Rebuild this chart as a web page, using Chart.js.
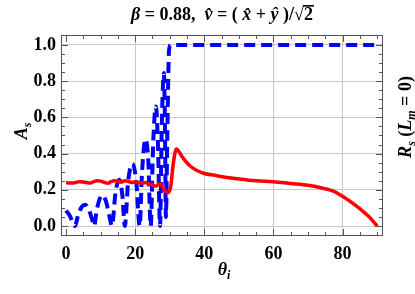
<!DOCTYPE html>
<html>
<head>
<meta charset="utf-8">
<script src="https://cdn.jsdelivr.net/npm/chart.js@4.4.0/dist/chart.umd.min.js"></script>
<style>
  body { margin: 0; background: #fff; }
  canvas { display: block; }
</style>
</head>
<body>
<canvas id="grafico" width="415" height="294"></canvas>
<script>
// valores
const thetaRed = [0, 1, 2, 3, 4, 5, 6, 7, 8, 9, 10, 11, 12, 13, 14, 15, 16, 17, 18, 19, 20, 21, 22, 23, 24, 25, 26, 27, 28, 28.8, 29.6, 30.3, 31, 31.6, 32, 32.7, 33.5, 34.5, 36, 38, 40, 43, 46, 50, 55, 60, 65, 70, 74, 77, 80, 83, 86, 88, 90];
const rsRed = [0.24, 0.238, 0.237, 0.242, 0.245, 0.243, 0.24, 0.238, 0.245, 0.25, 0.248, 0.242, 0.236, 0.245, 0.25, 0.248, 0.243, 0.25, 0.247, 0.24, 0.245, 0.24, 0.238, 0.24, 0.232, 0.228, 0.22, 0.235, 0.215, 0.19, 0.185, 0.22, 0.34, 0.41, 0.425, 0.41, 0.385, 0.36, 0.33, 0.305, 0.29, 0.28, 0.27, 0.26, 0.25, 0.245, 0.235, 0.225, 0.21, 0.195, 0.165, 0.125, 0.08, 0.045, 0];

const thetaBlue = [0, 1, 2, 2.6, 3.5, 4.5, 5.5, 6.5, 7.5, 8.1, 9, 10.5, 11.5, 12.5, 13.3, 14.3, 15.4, 16.3, 17, 18, 19.2, 20.3, 21.3, 22, 23, 23.8, 24.5, 25.2, 26, 26.6, 27.2, 27.7, 28.3, 28.6, 28.9, 29.3, 29.8, 30.3, 90];
const asBlue = [0.085, 0.06, 0.02, 0, 0.06, 0.105, 0.118, 0.095, 0.04, 0, 0.1, 0.17, 0.14, 0.06, 0, 0.18, 0.255, 0.17, 0, 0.25, 0.345, 0.25, 0, 0.3, 0.48, 0.36, 0, 0.45, 0.66, 0.45, 0, 0.55, 0.845, 0.6, 0.05, 0.5, 0.97, 1.0, 1.0];

const xTicks = [0, 20, 40, 60, 80];
const yTicks = [0, 0.2, 0.4, 0.6, 0.8, 1.0];

const fonte = '"Liberation Serif", "DejaVu Serif", serif';

// desenha texto em partes (itálico, subscrito)
function desenhaPartes(ctx, partes, x, y, alinhar) {
  let total = 0;
  partes.forEach(p => {
    ctx.font = p.f;
    p.w = ctx.measureText(p.t).width;
    total += p.w;
  });
  let cx = alinhar === "center" ? x - total / 2 : x;
  partes.forEach(p => {
    ctx.font = p.f;
    ctx.fillText(p.t, cx, y + (p.dy || 0));
    p.x = cx;
    cx += p.w;
  });
  return partes;
}

const molduraPlugin = {
  id: "moldura",
  afterDraw(chart) {
    const ctx = chart.ctx;
    const area = chart.chartArea;
    const sx = chart.scales.x;
    const sy = chart.scales.y;
    ctx.save();

    // moldura
    ctx.strokeStyle = "#555";
    ctx.lineWidth = 1;
    ctx.strokeRect(area.left + 0.5, area.top + 0.5, area.right - area.left - 1, area.bottom - area.top - 1);

    // marcas (maiores e menores) nos quatro lados
    ctx.beginPath();
    for (let v = 0; v <= 90; v += 5) {
      const px = Math.round(sx.getPixelForValue(v)) + 0.5;
      const len = v % 20 === 0 ? 7 : 4;
      ctx.moveTo(px, area.bottom);
      ctx.lineTo(px, area.bottom - len);
      ctx.moveTo(px, area.top);
      ctx.lineTo(px, area.top + len);
    }
    for (let i = 0; i <= 21; i++) {
      const v = i * 0.05;
      const py = Math.round(sy.getPixelForValue(v)) + 0.5;
      if (py < area.top + 2) continue;
      const len = i % 4 === 0 ? 7 : 4;
      ctx.moveTo(area.left, py);
      ctx.lineTo(area.left + len, py);
      ctx.moveTo(area.right, py);
      ctx.lineTo(area.right - len, py);
    }
    ctx.stroke();

    ctx.fillStyle = "#000";
    ctx.textBaseline = "alphabetic";
    const b = "bold 18px " + fonte;
    const bi = "italic bold 18px " + fonte;
    const sub = "italic bold 12px " + fonte;

    // título
    const partes = desenhaPartes(ctx, [
      { t: "β", f: bi },
      { t: " = 0.88,  ", f: b },
      { t: "v\u0302", f: bi },
      { t: " = ( ", f: b },
      { t: "x\u0302", f: bi },
      { t: " + ", f: b },
      { t: "y\u0302", f: bi },
      { t: " )/√", f: b },
      { t: "2", f: b }
    ], (area.left + area.right) / 2, 20, "center");
    const dois = partes[partes.length - 1];
    ctx.fillRect(dois.x - 1, 5, dois.w + 2, 1.6);

    // rótulo do eixo x
    desenhaPartes(ctx, [
      { t: "θ", f: bi },
      { t: "i", f: sub, dy: 4 }
    ], (area.left + area.right) / 2 + 2, 275, "center");

    // rótulo do eixo y (esquerda)
    ctx.save();
    ctx.translate(27, 131);
    ctx.rotate(-Math.PI / 2);
    desenhaPartes(ctx, [
      { t: "A", f: bi },
      { t: "s", f: sub, dy: 4 }
    ], 0, 0, "center");
    ctx.restore();

    // rótulo da direita
    ctx.save();
    ctx.translate(411, 117);
    ctx.rotate(-Math.PI / 2);
    desenhaPartes(ctx, [
      { t: "R", f: bi },
      { t: "s", f: sub, dy: 4 },
      { t: " (", f: b },
      { t: "L", f: bi },
      { t: "m", f: sub, dy: 4 },
      { t: " = 0)", f: b }
    ], 0, 0, "center");
    ctx.restore();

    ctx.restore();
  }
};

const grafico = document.getElementById("grafico");

new Chart(grafico, {
  type: "line",
  data: {
    datasets: [
      {
        label: "R_s",
        data: thetaRed.map((t, i) => ({ x: t, y: rsRed[i] })),
        borderColor: "#ff0000",
        borderWidth: 3.5,
        pointRadius: 0,
        cubicInterpolationMode: "monotone",
        fill: false,
      },
      {
        label: "A_s",
        data: thetaBlue.map((t, i) => ({ x: t, y: asBlue[i] })),
        borderColor: "#0000ff",
        borderWidth: 4,
        borderDash: [11, 6],
        pointRadius: 0,
        cubicInterpolationMode: "monotone",
        fill: false,
      },
    ],
  },
  options: {
    responsive: false,
    animation: false,
    devicePixelRatio: 1,
    layout: { padding: { top: 35, right: 32, left: 0, bottom: 0 } },
    plugins: {
      legend: { display: false },
      title: { display: false },
      tooltip: { enabled: false },
    },
    scales: {
      x: {
        type: "linear",
        min: -1.45,
        max: 91.7,
        afterBuildTicks: (s) => { s.ticks = xTicks.map((v) => ({ value: v })); },
        afterFit: (s) => { s.height = 58; },
        border: { display: false },
        grid: {
          drawTicks: false,
          color: (c) => (c.tick && c.tick.value === 0 ? "rgba(0,0,0,0)" : "#c8c8c8"),
          lineWidth: 1,
        },
        ticks: {
          padding: 8,
          maxRotation: 0,
          color: "#000",
          font: { family: fonte, size: 18, weight: "bold" },
        },
      },
      y: {
        min: -0.055,
        max: 1.055,
        afterBuildTicks: (s) => { s.ticks = yTicks.map((v) => ({ value: v })); },
        afterFit: (s) => { s.width = 61; },
        border: { display: false },
        grid: {
          drawTicks: false,
          color: "#c8c8c8",
          lineWidth: 1,
        },
        ticks: {
          padding: 5,
          color: "#000",
          font: { family: fonte, size: 18, weight: "bold" },
          callback: (v) => Number(v).toFixed(1),
        },
      },
    },
  },
  plugins: [molduraPlugin],
});
</script>
</body>
</html>
